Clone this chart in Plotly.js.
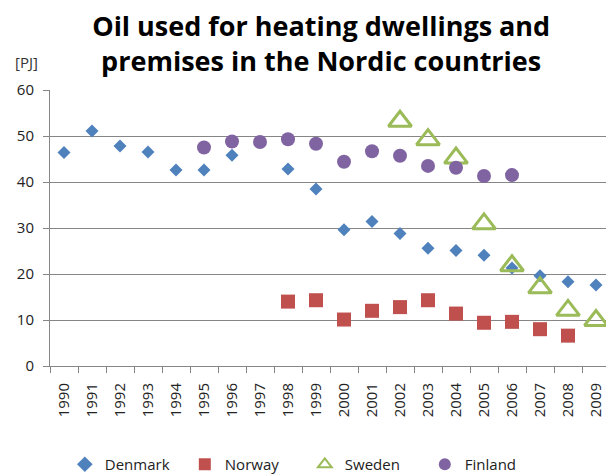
<!DOCTYPE html>
<html>
<head>
<meta charset="utf-8">
<script src="https://cdn.plot.ly/plotly-3.0.1.min.js"></script>
<style>html,body{margin:0;padding:0;background:#fff;overflow:hidden}</style>
</head>
<body>
<div id="chart" style="width:606px;height:475px"></div>
<script>
var years = ['1990','1991','1992','1993','1994','1995','1996','1997','1998','1999',
             '2000','2001','2002','2003','2004','2005','2006','2007','2008','2009'];
var denmark = [46.4, 51.1, 47.8, 46.5, 42.6, 42.6, 45.8, null, 42.8, 38.5,
               29.6, 31.4, 28.8, 25.6, 25.1, 24.1, 21.3, 19.6, 18.3, 17.6];
var norway  = [null, null, null, null, null, null, null, null, 14.0, 14.3,
               10.1, 12.0, 12.8, 14.3, 11.4, 9.4, 9.6, 8.0, 6.6, null];
var sweden  = [null, null, null, null, null, null, null, null, null, null,
               null, null, 53.2, 49.2, 45.2, 30.9, 21.8, 17.0, 12.1, 9.9];
var finland = [null, null, null, null, null, 47.5, 48.8, 48.7, 49.3, 48.3,
               44.4, 46.7, 45.7, 43.5, 43.1, 41.3, 41.5, null, null, null];

var fontFam = 'Open Sans, Noto Sans, sans-serif';
var traces = [
  {name:'Denmark', x:years, y:denmark, type:'scatter', mode:'markers',
   marker:{symbol:'diamond', size:10, color:'#4F81BD'}},
  {name:'Norway', x:years, y:norway, type:'scatter', mode:'markers',
   marker:{symbol:'square', size:14, color:'#C0504D'}},
  {name:'Sweden', x:years, y:sweden, type:'scatter', mode:'markers',
   marker:{symbol:'triangle-up-open', size:20, color:'#9BBB59', line:{width:3, color:'#9BBB59'}}},
  {name:'Finland', x:years, y:finland, type:'scatter', mode:'markers',
   marker:{symbol:'circle', size:14, color:'#8064A2'}}
];

var layout = {
  width:606, height:475,
  margin:{l:50, r:0, t:90, b:109, pad:0},
  paper_bgcolor:'#fff', plot_bgcolor:'#fff',
  font:{family:fontFam, size:15, color:'#222'},
  title:{text:'Oil used for heating dwellings and<br>premises in the Nordic countries',
         font:{family:fontFam, size:27, color:'#000', weight:'bold'},
         xref:'container', x:0.53, xanchor:'center', yref:'container', y:0.9235, yanchor:'top'},
  xaxis:{type:'category', range:[-0.5, 19.357], tickson:'boundaries', ticks:'outside', ticklen:6,
         tickcolor:'#868686', showline:true, linecolor:'#868686', linewidth:1, showgrid:false,
         tickangle:-90, tickfont:{size:15, color:'#222'}, ticklabelstandoff:10, fixedrange:true},
  yaxis:{range:[0,60], dtick:10, ticks:'outside', ticklen:6, tickcolor:'#868686',
         showline:true, linecolor:'#868686', linewidth:1, showgrid:true, gridcolor:'#868686', gridwidth:1,
         zeroline:false, tickfont:{size:15, color:'#222'}, ticklabelstandoff:6, fixedrange:true},
  showlegend:true,
  legend:{orientation:'h', xref:'container', x:0.503, xanchor:'center', yref:'container', y:0.022, yanchor:'middle',
          font:{size:15, color:'#222'}, itemsizing:'constant', entrywidth:75, entrywidthmode:'pixels'},
  annotations:[{text:'[PJ]', xref:'paper', x:(13-50)/556, xanchor:'left', yref:'paper', y:(366-62)/276,
                yanchor:'middle', showarrow:false, font:{size:15, color:'#333'}}]
};

Plotly.newPlot('chart', traces, layout, {displayModeBar:false, staticPlot:true});
</script>
</body>
</html>
